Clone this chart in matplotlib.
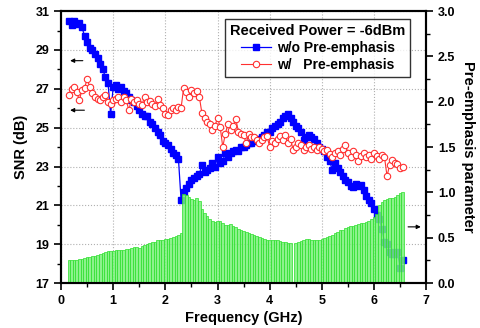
import matplotlib

matplotlib.use("Agg")
import matplotlib.pyplot as plt
import numpy as np
from matplotlib.ticker import FixedLocator, FormatStrFormatter, MultipleLocator

plt.rcParams["font.family"] = ["Liberation Sans", "DejaVu Sans"]
plt.rcParams["font.weight"] = "bold"

# frequency grid (GHz), 0.15 .. 6.55 in 0.05 steps
freq = np.round(np.arange(0.15, 6.551, 0.05), 2)

# SNR without pre-emphasis (dB)
snr_wo = [
    30.5, 30.3, 30.5, 30.35, 30.4, 30.2, 29.7, 29.4, 29.1, 29.0,
    28.8, 28.6, 28.3, 28.0, 27.6, 27.3, 25.7, 27.1, 27.2, 27.0,
    27.1, 26.9, 26.8, 26.6, 26.4, 26.3, 26.1, 25.9, 25.7, 25.6,
    25.6, 25.3, 25.2, 25.0, 24.8, 24.6, 24.3, 24.2, 24.1, 23.9,
    23.7, 23.6, 23.4, 21.3, 21.7, 21.9, 22.1, 22.3, 22.4, 22.5,
    22.6, 23.1, 22.7, 22.8, 22.9, 23.2, 23.0, 23.5, 23.2, 23.3,
    23.7, 23.5, 23.7, 23.8, 23.85, 23.8, 24.0, 24.0, 24.1, 24.2,
    24.2, 24.3, 24.35, 24.4, 24.5, 24.6, 24.8, 24.8, 25.0, 25.1,
    25.2, 25.3, 25.5, 25.6, 25.7, 25.5, 25.3, 25.1, 25.0, 24.8,
    24.35, 24.5, 24.6, 24.5, 24.4, 24.2, 24.0, 23.9, 23.8, 23.5,
    23.3, 22.8, 23.2, 22.9, 22.7, 22.5, 22.3, 22.2, 22.0, 21.95,
    22.1, 22.0, 22.05, 21.8, 21.5, 21.3, 21.1, 20.8, 20.5, 20.3,
    19.8, 19.1, 19.0, 18.6, 18.5, 18.5, 18.6, 17.8, 18.2,
]

# SNR with pre-emphasis (dB)
snr_w = [
    26.7, 27.0, 27.1, 26.85, 26.4, 26.95, 27.05, 27.5, 27.1, 26.8,
    26.6, 26.5, 26.4, 26.6, 26.7, 26.3, 26.2, 26.4, 26.5, 26.6,
    26.3, 26.6, 26.4, 25.9, 26.5, 26.3, 26.4, 26.2, 26.15, 26.6,
    26.3, 26.35, 26.2, 26.1, 26.5, 26.15, 26.0, 25.7, 25.65, 25.9,
    26.0, 25.9, 26.05, 26.0, 27.05, 26.85, 26.6, 26.95, 26.8, 26.9,
    26.6, 25.75, 25.5, 25.3, 25.2, 24.9, 25.1, 25.5, 25.05, 24.0,
    24.7, 25.2, 24.9, 25.1, 25.45, 24.8, 24.7, 24.6, 24.2, 24.7,
    24.5, 24.5, 24.35, 24.2, 24.35, 24.5, 24.55, 24.0, 24.3, 24.2,
    24.4, 24.55, 24.35, 24.6, 24.2, 24.4, 23.85, 24.0, 24.2, 24.1,
    23.85, 24.0, 24.1, 23.9, 24.0, 23.85, 24.0, 23.9, 23.8, 23.85,
    23.65, 23.5, 23.7, 23.8, 23.6, 23.9, 24.1, 23.7, 23.5, 23.8,
    23.6, 23.3, 23.55, 23.7, 23.5, 23.6, 23.4, 23.7, 23.55, 23.4,
    23.6, 23.5, 22.5, 23.1, 23.35, 23.2, 23.15, 22.9, 23.0,
]

# pre-emphasis parameter (right axis)
pre_emph = [
    0.25, 0.25, 0.25, 0.25, 0.26, 0.27, 0.28, 0.29, 0.29, 0.30,
    0.30, 0.31, 0.32, 0.33, 0.345, 0.35, 0.35, 0.355, 0.36, 0.36,
    0.37, 0.37, 0.375, 0.38, 0.39, 0.40, 0.40, 0.39, 0.41, 0.42,
    0.43, 0.44, 0.45, 0.455, 0.47, 0.47, 0.48, 0.49, 0.49, 0.50,
    0.51, 0.52, 0.53, 0.55, 0.98, 0.97, 0.95, 0.93, 0.92, 0.94,
    0.90, 0.82, 0.77, 0.74, 0.71, 0.69, 0.675, 0.69, 0.68, 0.66,
    0.64, 0.64, 0.65, 0.63, 0.62, 0.60, 0.585, 0.57, 0.56, 0.55,
    0.54, 0.53, 0.52, 0.51, 0.50, 0.49, 0.475, 0.47, 0.48, 0.48,
    0.47, 0.46, 0.455, 0.45, 0.445, 0.44, 0.0, 0.44, 0.45, 0.46,
    0.48, 0.49, 0.49, 0.48, 0.48, 0.475, 0.48, 0.49, 0.50, 0.51,
    0.52, 0.53, 0.55, 0.565, 0.58, 0.59, 0.61, 0.62, 0.63, 0.63,
    0.64, 0.65, 0.66, 0.66, 0.675, 0.69, 0.71, 0.73, 0.76, 0.86,
    0.89, 0.92, 0.93, 0.935, 0.94, 0.95, 0.97, 0.99, 1.00,
]

snr_ticks = [17, 19, 21, 23, 25, 27, 29, 31]

fig = plt.figure(figsize=(4.81, 3.28), dpi=100)
ax1 = fig.add_axes([0.127, 0.137, 0.759, 0.829])
ax2 = ax1.twinx()

ax1.plot(freq, snr_wo, color="#0000ff", marker="s", markersize=3.8,
         linewidth=0.9, label="w/o Pre-emphasis")
ax1.plot(freq, snr_w, color="#ff3030", marker="o", markersize=4.6,
         markerfacecolor="white", markeredgewidth=0.8, linewidth=0.8,
         label="w/   Pre-emphasis")

ax2.bar(freq, pre_emph, width=0.05, color="#78f078", edgecolor="#2ee02e",
        linewidth=0.6, alpha=0.85)

ax1.set_xlim(0, 7)
ax1.set_ylim(17, 31)
ax2.set_ylim(0, 3.0)
ax1.xaxis.set_major_locator(MultipleLocator(1))
ax1.xaxis.set_minor_locator(MultipleLocator(0.5))
ax1.yaxis.set_major_locator(FixedLocator(snr_ticks))
ax1.yaxis.set_minor_locator(MultipleLocator(1))
ax2.yaxis.set_major_locator(MultipleLocator(0.5))
ax2.yaxis.set_minor_locator(MultipleLocator(0.25))
ax2.yaxis.set_major_formatter(FormatStrFormatter("%.1f"))

ax1.grid(True, which="major", color="#b0b0b0", linestyle=":", linewidth=0.8)

for ax in (ax1, ax2):
    for sp in ax.spines.values():
        sp.set_linewidth(1.5)
    ax.tick_params(which="major", length=5, width=1.2, labelsize=9, direction="out")
    ax.tick_params(which="minor", length=3, width=1.0, direction="out")

ax1.set_xlabel("Frequency (GHz)", fontsize=10.5, fontweight="bold", labelpad=3)
ax1.set_ylabel("SNR (dB)", fontsize=10.5, fontweight="bold", labelpad=5)
ax2.set_ylabel("Pre-emphasis parameter", fontsize=10.5, fontweight="bold",
               rotation=270, labelpad=14)

# arrows pointing to the relevant axis
arrow = dict(arrowstyle="-|>", color="black", lw=0.8, mutation_scale=6)
ax1.annotate("", xy=(0.12, 28.45), xytext=(0.47, 28.45), arrowprops=arrow)
ax1.annotate("", xy=(0.12, 25.9), xytext=(0.50, 25.9), arrowprops=arrow)
ax2.annotate("", xy=(6.95, 0.62), xytext=(6.6, 0.62), arrowprops=arrow)

handles, labels = ax1.get_legend_handles_labels()
leg = ax2.legend(handles, labels, title="Received Power = -6dBm",
                 loc="upper right", bbox_to_anchor=(0.975, 0.995),
                 fontsize=10, title_fontsize=10.5, frameon=True, fancybox=False,
                 edgecolor="black", handlelength=2.2, borderpad=0.35,
                 labelspacing=0.2, handletextpad=0.4)
leg.get_frame().set_linewidth(1.0)
leg.get_title().set_fontweight("bold")

fig.savefig("out.png", dpi=100)
